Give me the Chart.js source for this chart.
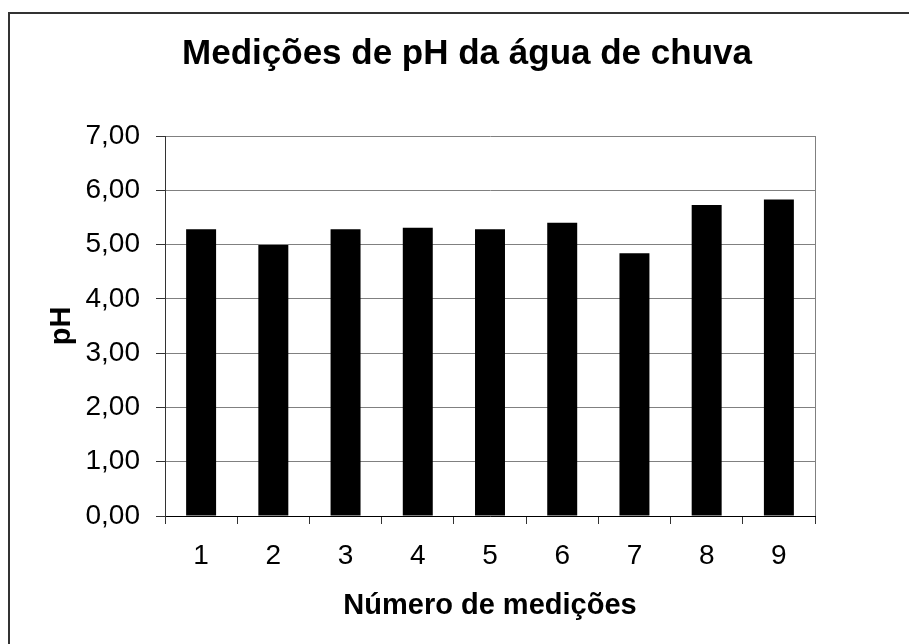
<!DOCTYPE html>
<html>
<head>
<meta charset="utf-8">
<script src="https://cdn.jsdelivr.net/npm/chart.js@4"></script>
<style>
  html, body { margin: 0; padding: 0; background: #fff; }
  #wrap { width: 909px; height: 644px; position: relative; }
</style>
</head>
<body>
<div id="wrap"><canvas id="barChart"></canvas></div>
<script>
// data
const medicoes = ['1', '2', '3', '4', '5', '6', '7', '8', '9'];
const phValues = [5.28, 4.99, 5.28, 5.31, 5.28, 5.40, 4.84, 5.73, 5.83];
const yTickLabels = ['0,00', '1,00', '2,00', '3,00', '4,00', '5,00', '6,00', '7,00'];
const chartTitle = 'Medições de pH da água de chuva';

const FONT = "'Liberation Sans', Arial, sans-serif";

// outer frame, title (centred on the frame) and right border of the plot area
const framePlugin = {
  id: 'frame',
  beforeDraw(chart) {
    const ctx = chart.ctx;
    ctx.save();
    ctx.fillStyle = '#fff';
    ctx.fillRect(0, 0, chart.width, chart.height);
    ctx.strokeStyle = '#333';
    ctx.lineWidth = 2;
    ctx.strokeRect(9, 13, chart.width + 50, chart.height + 50);
    ctx.fillStyle = '#000';
    ctx.font = "bold 35px " + FONT;
    ctx.textAlign = 'center';
    ctx.textBaseline = 'middle';
    ctx.fillText(chartTitle, 467, 54);
    ctx.restore();
  },
  afterDatasetsDraw(chart) {
    const a = chart.chartArea;
    const ctx = chart.ctx;
    ctx.save();
    ctx.strokeStyle = '#808080';
    ctx.lineWidth = 1;
    ctx.beginPath();
    ctx.moveTo(Math.round(a.right) + 0.5, a.top);
    ctx.lineTo(Math.round(a.right) + 0.5, a.bottom);
    ctx.stroke();
    ctx.restore();
  }
};

document.addEventListener('DOMContentLoaded', () => {
  const ctx = document.getElementById('barChart').getContext('2d');
  new Chart(ctx, {
    type: 'bar',
    data: {
      labels: medicoes,
      datasets: [{
        label: 'pH',
        data: phValues,
        backgroundColor: '#000',
        borderWidth: 0,
        barPercentage: 0.415,
        categoryPercentage: 1,
      }],
    },
    options: {
      responsive: true,
      maintainAspectRatio: false,
      animation: false,
      layout: { padding: { left: 0, top: 136, right: 94, bottom: 0 } },
      plugins: {
        legend: { display: false },
        tooltip: { enabled: false },
        title: { display: false },
      },
      scales: {
        x: {
          afterFit(scale) { scale.height = 128; },
          grid: {
            display: true,
            drawOnChartArea: false,
            tickLength: 8,
            tickColor: '#333',
            offset: true,
          },
          border: { color: '#000', width: 1 },
          ticks: {
            color: '#000',
            padding: 15,
            font: { family: FONT, size: 28 },
          },
          title: {
            display: true,
            text: 'Número de medições',
            color: '#000',
            font: { family: FONT, size: 29, weight: 'bold' },
            padding: { top: 0, bottom: 21 },
          },
        },
        y: {
          min: 0,
          max: 7,
          afterFit(scale) { scale.width = 165; },
          grid: {
            color: '#808080',
            tickColor: '#333',
            tickLength: 9,
          },
          border: { color: '#333', width: 1 },
          ticks: {
            stepSize: 1,
            color: '#000',
            padding: 16,
            font: { family: FONT, size: 28 },
            callback: (v, i) => yTickLabels[i],
          },
          title: {
            display: true,
            text: 'pH',
            color: '#000',
            font: { family: FONT, size: 29, weight: 'bold' },
            padding: { top: 45, bottom: 0 },
          },
        },
      },
    },
    plugins: [framePlugin],
  });
});
</script>
</body>
</html>
